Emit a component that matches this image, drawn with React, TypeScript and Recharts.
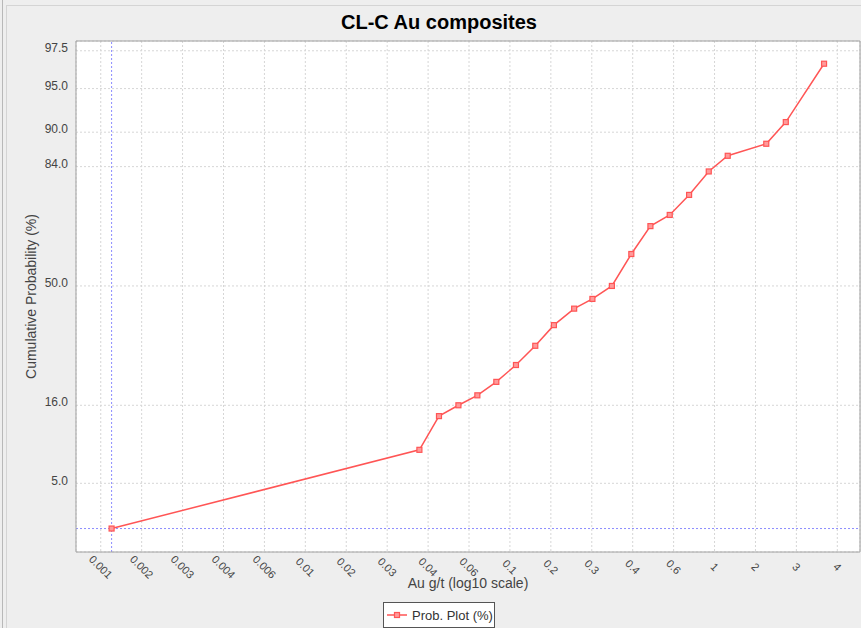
import {
  LineChart,
  Line,
  XAxis,
  YAxis,
  CartesianGrid,
  ReferenceLine,
  Label,
} from "recharts";

const chartTitle = "CL-C Au composites";
const xAxisTitle = "Au g/t (log10 scale)";
const yAxisTitle = "Cumulative Probability (%)";
const seriesName = "Prob. Plot (%)";

// Au grade (g/t) of each plotted point
const grades = [
  0.00113, 0.0361, 0.045, 0.056, 0.0693, 0.0858, 0.107, 0.133, 0.164, 0.206,
  0.253, 0.315, 0.392, 0.486, 0.604, 0.751, 0.937, 1.16, 1.79, 2.23, 3.43,
];

// cumulative probability (%) at each grade
const cumProb = [
  2.16, 8.6, 13.9, 16.0, 18.1, 21.2, 25.5, 30.9, 37.2, 42.5, 45.7, 50.0, 60.5,
  69.1, 72.3, 77.6, 83.0, 86.1, 88.2, 91.4, 96.8,
];

// the log axis puts a tick every 0.2 decades, labels are rounded
const xTickLabels = [
  "0.001", "0.002", "0.003", "0.004", "0.006", "0.01", "0.02", "0.03", "0.04",
  "0.06", "0.1", "0.2", "0.3", "0.4", "0.6", "1", "2", "3", "4",
];
const yTickLabels = [5, 16, 50, 84, 90, 95, 97.5];

const xDomain = [0.000757, 5.14];
const yDomainPct = [1.33, 97.94];

const FONT = "'Liberation Sans', Arial, sans-serif";
const RED = "#ff5555";
const BLUE = "#8c8cff";

// inverse normal CDF (Acklam) -> probability paper
const probit = (pct: number) => {
  const p = pct / 100;
  const a = [-39.69683028665376, 220.9460984245205, -275.9285104469687, 138.357751867269, -30.66479806614716, 2.506628277459239];
  const b = [-54.47609879822406, 161.5858368580409, -155.6989798598866, 66.80131188771972, -13.28068155288572];
  const c = [-0.007784894002430293, -0.3223964580411365, -2.400758277161838, -2.549732539343734, 4.374664141464968, 2.938163982698783];
  const d = [0.007784695709041462, 0.3224671290700398, 2.445134137142996, 3.754408661907416];
  const pl = 0.02425;
  if (p < pl) {
    const q = Math.sqrt(-2 * Math.log(p));
    return (((((c[0] * q + c[1]) * q + c[2]) * q + c[3]) * q + c[4]) * q + c[5]) /
      ((((d[0] * q + d[1]) * q + d[2]) * q + d[3]) * q + 1);
  }
  if (p > 1 - pl) {
    const q = Math.sqrt(-2 * Math.log(1 - p));
    return -(((((c[0] * q + c[1]) * q + c[2]) * q + c[3]) * q + c[4]) * q + c[5]) /
      ((((d[0] * q + d[1]) * q + d[2]) * q + d[3]) * q + 1);
  }
  const q = p - 0.5;
  const r = q * q;
  return ((((((a[0] * r + a[1]) * r + a[2]) * r + a[3]) * r + a[4]) * r + a[5]) * q) /
    (((((b[0] * r + b[1]) * r + b[2]) * r + b[3]) * r + b[4]) * r + 1);
};

const data = grades.map((g, i) => ({ grade: g, z: probit(cumProb[i]) }));
const xTicks = xTickLabels.map((_, i) => Math.pow(10, -3 + 0.2 * i));
const yTicks = yTickLabels.map((p) => probit(p));
const yDomain = yDomainPct.map((p) => probit(p));

const XTick = (props: any) => {
  const { x, index } = props;
  const cy = 567;
  return (
    <text
      x={x}
      y={cy}
      dy="0.35em"
      textAnchor="middle"
      transform={`rotate(45 ${x} ${cy})`}
      fontSize={11}
      fontFamily={FONT}
      fill="#444"
    >
      {xTickLabels[index]}
    </text>
  );
};

const YTick = (props: any) => {
  const { y, index } = props;
  return (
    <text x={68} y={y - 3} dy="0.35em" textAnchor="end" fontSize={12} fontFamily={FONT} fill="#444">
      {yTickLabels[index].toFixed(1)}
    </text>
  );
};

const SquareDot = (props: any) => {
  const { cx, cy, index } = props;
  if (cx == null || cy == null) return <g key={index} />;
  return (
    <rect key={index} x={cx - 2.5} y={cy - 2.5} width={5} height={5} fill="#ff9a9a" stroke={RED} strokeWidth={1.2} />
  );
};

const App = () => {
  return (
    <div
      style={{
        position: "absolute",
        left: 0,
        top: 0,
        width: 861,
        height: 628,
        background: "#eeeeee",
        overflow: "hidden",
        fontFamily: FONT,
      }}
    >
      <div style={{ position: "absolute", left: 2, top: 0, width: 1, height: 628, background: "#b8b8b8" }} />
      <div
        style={{
          position: "absolute",
          left: 6,
          top: 5,
          width: 855,
          height: 623,
          borderLeft: "1px solid #d4d4d4",
          borderTop: "1px solid #d4d4d4",
        }}
      />

      <LineChart
        width={861}
        height={628}
        data={data}
        margin={{ top: 41, right: 1, bottom: 36, left: 0 }}
        style={{ position: "absolute", left: 0, top: 0 }}
      >
        <CartesianGrid stroke="#d6d6d6" strokeDasharray="2 2" fill="#ffffff" />

        <XAxis
          dataKey="grade"
          type="number"
          scale="log"
          domain={xDomain}
          allowDataOverflow
          ticks={xTicks}
          interval={0}
          tick={<XTick />}
          tickLine={false}
          axisLine={{ stroke: "#a0a0a0" }}
          height={40}
        >
          <Label
            content={(p: any) => {
              const vb = p.viewBox || { x: 76, y: 552, width: 784 };
              return (
                <text x={vb.x + vb.width / 2} y={vb.y + 36} textAnchor="middle" fontSize={14} fontFamily={FONT} fill="#444">
                  {xAxisTitle}
                </text>
              );
            }}
          />
        </XAxis>

        <YAxis
          dataKey="z"
          type="number"
          domain={yDomain}
          allowDataOverflow
          ticks={yTicks}
          interval={0}
          tick={<YTick />}
          tickLine={false}
          axisLine={{ stroke: "#a0a0a0" }}
          width={76}
        >
          <Label
            content={(p: any) => {
              const vb = p.viewBox || { x: 0, y: 41, height: 511 };
              const cx = 31;
              const cy = vb.y + vb.height / 2;
              return (
                <text
                  x={cx}
                  y={cy}
                  dy="0.35em"
                  textAnchor="middle"
                  transform={`rotate(-90 ${cx} ${cy})`}
                  fontSize={14}
                  fontFamily={FONT}
                  fill="#444"
                >
                  {yAxisTitle}
                </text>
              );
            }}
          />
        </YAxis>

        {/* plot outline top / right */}
        <ReferenceLine y={yDomain[1]} stroke="#a0a0a0" />
        <ReferenceLine x={xDomain[1]} stroke="#a0a0a0" />

        {/* crosshair on the first point */}
        <ReferenceLine x={data[0].grade} stroke={BLUE} strokeWidth={1} strokeDasharray="2 2" />
        <ReferenceLine y={data[0].z} stroke={BLUE} strokeWidth={1} strokeDasharray="2 2" />

        <Line
          type="linear"
          dataKey="z"
          name={seriesName}
          stroke={RED}
          strokeWidth={1.5}
          dot={<SquareDot />}
          activeDot={false}
          isAnimationActive={false}
        />
      </LineChart>

      <div
        style={{
          position: "absolute",
          left: 0,
          top: 10,
          width: 878,
          textAlign: "center",
          fontSize: 20,
          lineHeight: "24px",
          fontWeight: "bold",
          color: "#000",
        }}
      >
        {chartTitle}
      </div>

      <div
        style={{
          position: "absolute",
          left: 383,
          top: 602,
          width: 112,
          height: 26,
          border: "1px solid #555",
          background: "#ffffff",
          boxSizing: "border-box",
          display: "flex",
          alignItems: "center",
          fontSize: 13,
          color: "#333",
        }}
      >
        <svg width={22} height={10} style={{ marginLeft: 3, marginRight: 3 }}>
          <line x1={0} y1={5} x2={20} y2={5} stroke={RED} strokeWidth={1.5} />
          <rect x={7.5} y={2.5} width={5} height={5} fill="#ff9a9a" stroke={RED} strokeWidth={1.2} />
        </svg>
        <span>{seriesName}</span>
      </div>
    </div>
  );
};

export default App;
